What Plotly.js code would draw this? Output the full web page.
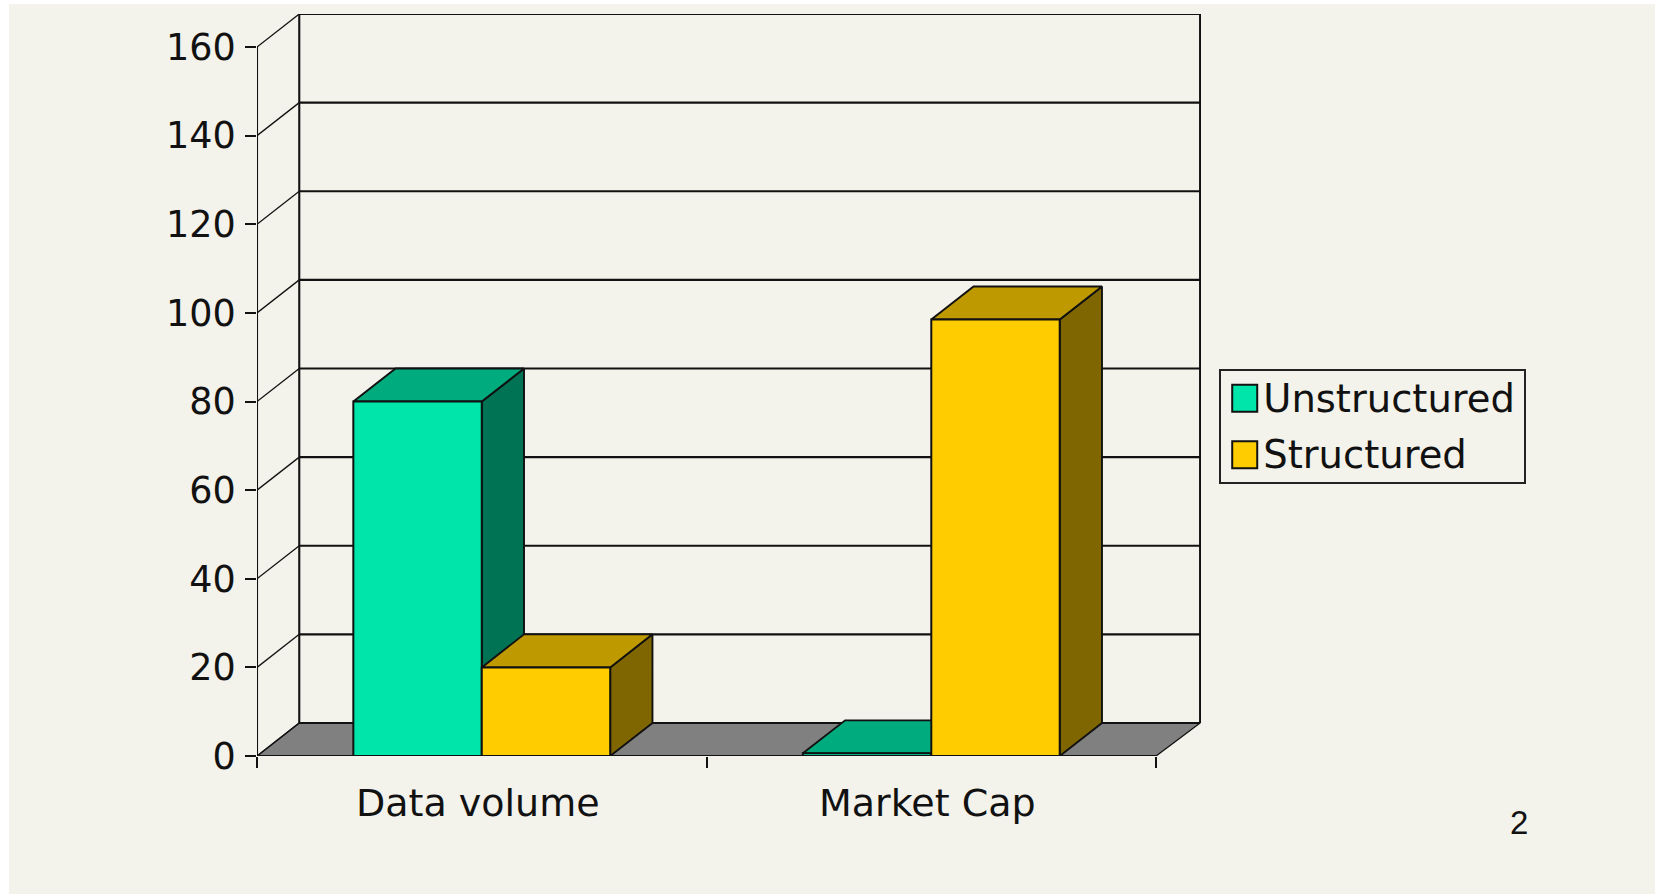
<!DOCTYPE html>
<html>
<head>
<meta charset="utf-8">
<script src="https://cdn.plot.ly/plotly-3.0.1.min.js"></script>
<style>
html,body{margin:0;padding:0;background:#fff;}
#chart{position:absolute;left:9px;top:4px;width:1646px;height:890px;}
</style>
</head>
<body>
<div id="chart"></div>
<script>
const categories = ['Data volume', 'Market Cap'];
const unstructured = [80, 0.6];
const structured = [20, 98.5];
const yTicks = [0, 20, 40, 60, 80, 100, 120, 140, 160];

const frontColors = {u: '#00E6AA', s: '#FFCC00'};
const topColors = {u: '#00AB7E', s: '#BF9900'};
const sideColors = {u: '#007355', s: '#7F6600'};
const cream = '#F3F2EB';
const ink = '#111111';
const fontFam = '"DejaVu Sans", Verdana, sans-serif';

const depthLeft = 0.094, depthRight = 0.098, depthY = 7.45;
const barW = 1 / 3.5;
const centers = categories.map((_, i) => i + 0.5);
const nCat = categories.length;

function poly(xs, ys, fill, w) {
  return {type: 'scatter', mode: 'lines', x: xs.concat(xs[0]), y: ys.concat(ys[0]), fill: 'toself',
    fillcolor: fill, line: {color: ink, width: w === undefined ? 1.9 : w}, showlegend: false,
    hoverinfo: 'skip', cliponaxis: false, xaxis: 'x', yaxis: 'y'};
}
function line(xs, ys, w) {
  return {type: 'scatter', mode: 'lines', x: xs, y: ys, line: {color: ink, width: w}, showlegend: false,
    hoverinfo: 'skip', cliponaxis: false, xaxis: 'x', yaxis: 'y'};
}

const traces = [];
// floor
traces.push(poly([0, depthLeft, nCat + depthRight, nCat], [0, depthY, depthY, 0], '#808080', 1.3));
// back wall gridlines and slanted side-wall lines
yTicks.forEach(v => {
  traces.push(line([depthLeft, nCat + depthRight], [v + depthY, v + depthY], 2.1));
  traces.push(line([0, depthLeft], [v, v + depthY], 1.3));
});
const topV = yTicks[yTicks.length - 1];
traces.push(line([depthLeft, depthLeft], [depthY, topV + depthY], 2.1));
traces.push(line([nCat + depthRight, nCat + depthRight], [depthY, topV + depthY], 2.1));
traces.push(line([0, 0], [0, topV], 2.1));
traces.push(line([0, nCat], [0, 0], 2.1));

// 3D faces, back to front
function addFaces(values, offset, key) {
  values.forEach((v, i) => {
    const l = centers[i] + offset, r = l + barW;
    traces.push(poly([r, r + depthLeft, r + depthLeft, r], [0, depthY, v + depthY, v], sideColors[key]));
    traces.push(poly([l, l + depthLeft, r + depthLeft, r], [v, v + depthY, v + depthY, v], topColors[key]));
  });
}
addFaces(unstructured, -barW, 'u');
addFaces(structured, 0, 's');

// front faces, on an overlay subplot so they sit above all the depth faces
traces.push({type: 'bar', name: 'Unstructured', legendgroup: 'u', x: centers, y: unstructured, width: barW, offset: -barW,
  marker: {color: frontColors.u, line: {color: ink, width: 2}}, xaxis: 'x2', yaxis: 'y2',
  cliponaxis: false, hoverinfo: 'skip'});
traces.push({type: 'bar', name: 'Structured', legendgroup: 's', x: centers, y: structured, width: barW, offset: 0,
  marker: {color: frontColors.s, line: {color: ink, width: 2}}, xaxis: 'x2', yaxis: 'y2',
  cliponaxis: false, hoverinfo: 'skip'});

const xRange = [0, 2.1], yRange = [0, 167.45];
const layout = {
  width: 1646, height: 890,
  margin: {l: 247.7, r: 454, t: 10.2, b: 138, pad: 0},
  paper_bgcolor: cream, plot_bgcolor: cream,
  showlegend: true,
  barmode: 'overlay',
  font: {family: fontFam, color: '#111', size: 38},
  xaxis: {range: xRange, tickmode: 'array', tickvals: centers, ticktext: categories, ticks: '',
    showgrid: false, zeroline: false, showline: false, ticklabelshift: -4, ticklabelstandoff: 21,
    tickfont: {family: fontFam, size: 38, color: '#111'},
    minor: {tickmode: 'array', tickvals: [0, 1, 2], ticks: 'outside', ticklen: 11, tickwidth: 2, tickcolor: ink, showgrid: false}},
  yaxis: {range: yRange, tickmode: 'array', tickvals: yTicks, ticks: 'outside', ticklen: 11, tickwidth: 2,
    tickcolor: ink, showgrid: false, zeroline: false, showline: false, ticklabelstandoff: 2,
    tickfont: {family: fontFam, size: 36.5, color: '#111'}},
  xaxis2: {range: xRange, overlaying: 'x', anchor: 'y2', visible: false},
  yaxis2: {range: yRange, overlaying: 'y', anchor: 'x2', visible: false},
  legend: {x: 1.0193, y: 0.5212, xanchor: 'left', yanchor: 'top', bgcolor: 'rgba(0,0,0,0)', bordercolor: '#222',
    borderwidth: 2, font: {family: fontFam, size: 38.5, color: '#111'}, traceorder: 'grouped', tracegroupgap: 3.5,
    itemwidth: 32, entrywidth: 258, entrywidthmode: 'pixels', itemclick: false, itemdoubleclick: false},
  annotations: [{xref: 'paper', yref: 'paper', x: 1.3368, y: -0.09, text: '2', showarrow: false,
    xanchor: 'center', yanchor: 'middle', font: {family: '"Liberation Sans", Arial, sans-serif', size: 33, color: '#111'}}]
};

// The library's legend swatch and box sizes are fixed, so they are set to the reference's after drawing.
function tuneLegend(gd) {
  gd.querySelectorAll('.legend .legendpoints path').forEach(p => {
    p.setAttribute('d', 'M15,15H-10V-12H15Z');
  });
  const bg = gd.querySelector('.legend rect.bg');
  if (bg && !bg.dataset.tuned) {
    bg.dataset.tuned = '1';
    bg.setAttribute('width', parseFloat(bg.getAttribute('width')) + 4);
    bg.setAttribute('height', 113);
    const box = gd.querySelector('.legend .scrollbox');
    if (box) box.setAttribute('transform', 'translate(0,-6)');
  }
}
Plotly.newPlot('chart', traces, layout, {displayModeBar: false}).then(gd => {
  tuneLegend(gd);
  requestAnimationFrame(() => tuneLegend(gd));
  setTimeout(() => tuneLegend(gd), 50);
});
</script>
</body>
</html>
